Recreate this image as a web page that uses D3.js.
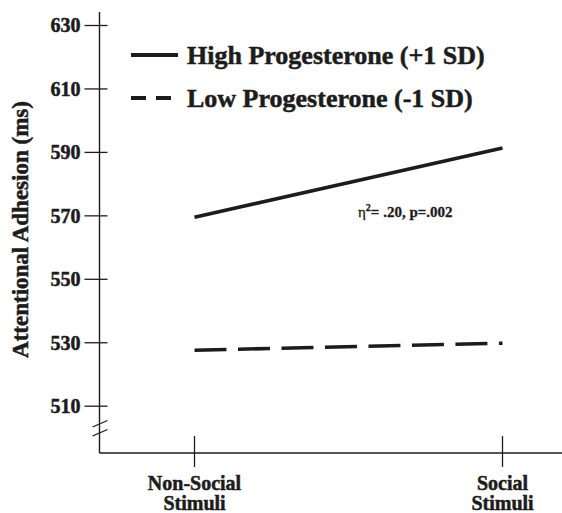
<!DOCTYPE html>
<html>
<head>
<meta charset="utf-8">
<script src="https://cdn.jsdelivr.net/npm/d3@7"></script>
<style>
  body { margin: 0; background: #fff; }
  svg { font-family: "Liberation Serif", "Times New Roman", serif; font-weight: bold; }
  svg text { stroke: #1c1c1c; stroke-width: 0.5px; }
</style>
</head>
<body>
<script>
// Chart size
const width = 562;
const height = 513;
const ink = '#1c1c1c';

// Data
const conditions = ["Non-Social Stimuli", "Social Stimuli"];
const conditionLines = [["Non-Social", "Stimuli"], ["Social", "Stimuli"]];
const highProg = [569.4, 591.2];
const lowProg = [527.5, 529.7];
const yTicks = [510, 530, 550, 570, 590, 610, 630];
const seriesNames = ["High Progesterone (+1 SD)", "Low Progesterone (-1 SD)"];

const svg = d3.select('body')
  .append('svg')
  .attr('width', width)
  .attr('height', height);

// Scales
const x = d3.scalePoint()
  .domain(conditions)
  .range([194.5, 502.5]);

const y = d3.scaleLinear()
  .domain([510, 630])
  .range([405.7, 25]);

const axisX = 99.5;
const axisBottom = 453;

// Y axis
const gy = svg.append('g')
  .attr('transform', `translate(${axisX},0)`)
  .call(d3.axisLeft(y).tickValues(yTicks).tickSize(0).tickPadding(0))
  .call(g => g.select('.domain').remove());

gy.selectAll('.tick line')
  .attr('x1', -15).attr('x2', 8)
  .attr('stroke', ink).attr('stroke-width', 1.3);

gy.selectAll('.tick text')
  .attr('x', -19)
  .attr('dy', '0.34em')
  .attr('fill', ink)
  .style('font-size', '20px')
  .style('font-family', '"Liberation Serif", serif');

gy.append('line')
  .attr('x1', 0).attr('x2', 0)
  .attr('y1', 12).attr('y2', axisBottom)
  .attr('stroke', ink).attr('stroke-width', 1.4);

// axis break marks
[0, 9].forEach(o => {
  gy.append('line')
    .attr('x1', -7).attr('x2', 8)
    .attr('y1', 427 + o).attr('y2', 420.5 + o)
    .attr('stroke', ink).attr('stroke-width', 1.3);
});

// X axis
const gx = svg.append('g')
  .attr('transform', `translate(0,${axisBottom})`);

gx.append('line')
  .attr('x1', axisX).attr('x2', width)
  .attr('y1', 0).attr('y2', 0)
  .attr('stroke', ink).attr('stroke-width', 1.4);

gx.selectAll('line.tick')
  .data(conditions)
  .enter()
  .append('line')
  .attr('class', 'tick')
  .attr('x1', d => x(d)).attr('x2', d => x(d))
  .attr('y1', -17).attr('y2', 14)
  .attr('stroke', ink).attr('stroke-width', 1.3);

const labels = gx.selectAll('text')
  .data(conditions)
  .enter()
  .append('text')
  .attr('x', d => x(d))
  .attr('text-anchor', 'middle')
  .attr('fill', ink)
  .style('font-size', '20px');

labels.selectAll('tspan')
  .data((d, i) => conditionLines[i].map(t => ({ t, cx: x(d) })))
  .enter()
  .append('tspan')
  .attr('x', d => d.cx)
  .attr('y', (d, i) => 37 + i * 20)
  .text(d => d.t);

// Y axis title
svg.append('text')
  .attr('transform', `translate(28, ${(96 + 363) / 2}) rotate(-90)`)
  .attr('text-anchor', 'middle')
  .attr('fill', ink)
  .style('font-size', '23px')
  .text('Attentional Adhesion (ms)');

// Lines
const line = d3.line()
  .x((d, i) => x(conditions[i]))
  .y(d => y(d));

svg.append('path')
  .datum(highProg)
  .attr('d', line)
  .attr('fill', 'none')
  .attr('stroke', ink)
  .attr('stroke-width', 3.6);

svg.append('path')
  .datum(lowProg)
  .attr('d', line)
  .attr('fill', 'none')
  .attr('stroke', ink)
  .attr('stroke-width', 3.6)
  .attr('stroke-dasharray', '32,11.5');

// Legend
const legend = svg.append('g');
const legendRows = [
  { name: seriesNames[0], y: 55, dash: null },
  { name: seriesNames[1], y: 98, dash: '15,10' }
];
legendRows.forEach(r => {
  legend.append('line')
    .attr('x1', 131).attr('x2', 178)
    .attr('y1', r.y).attr('y2', r.y)
    .attr('stroke', ink)
    .attr('stroke-width', 4)
    .attr('stroke-dasharray', r.dash);
  legend.append('text')
    .attr('x', 187)
    .attr('y', r.y + 8.5)
    .attr('fill', ink)
    .style('font-size', '26px')
    .text(r.name);
});

// Effect size annotation
const note = svg.append('text')
  .attr('x', 358)
  .attr('y', 217)
  .attr('fill', ink)
  .style('font-size', '15px')
  .style('stroke-width', '0.3px');
note.append('tspan').style('font-weight', 'normal').text('η');
note.append('tspan').attr('dy', -6).style('font-size', '10px').text('2');
note.append('tspan').attr('dy', 6).text('= .20, p=.002');
</script>
</body>
</html>
